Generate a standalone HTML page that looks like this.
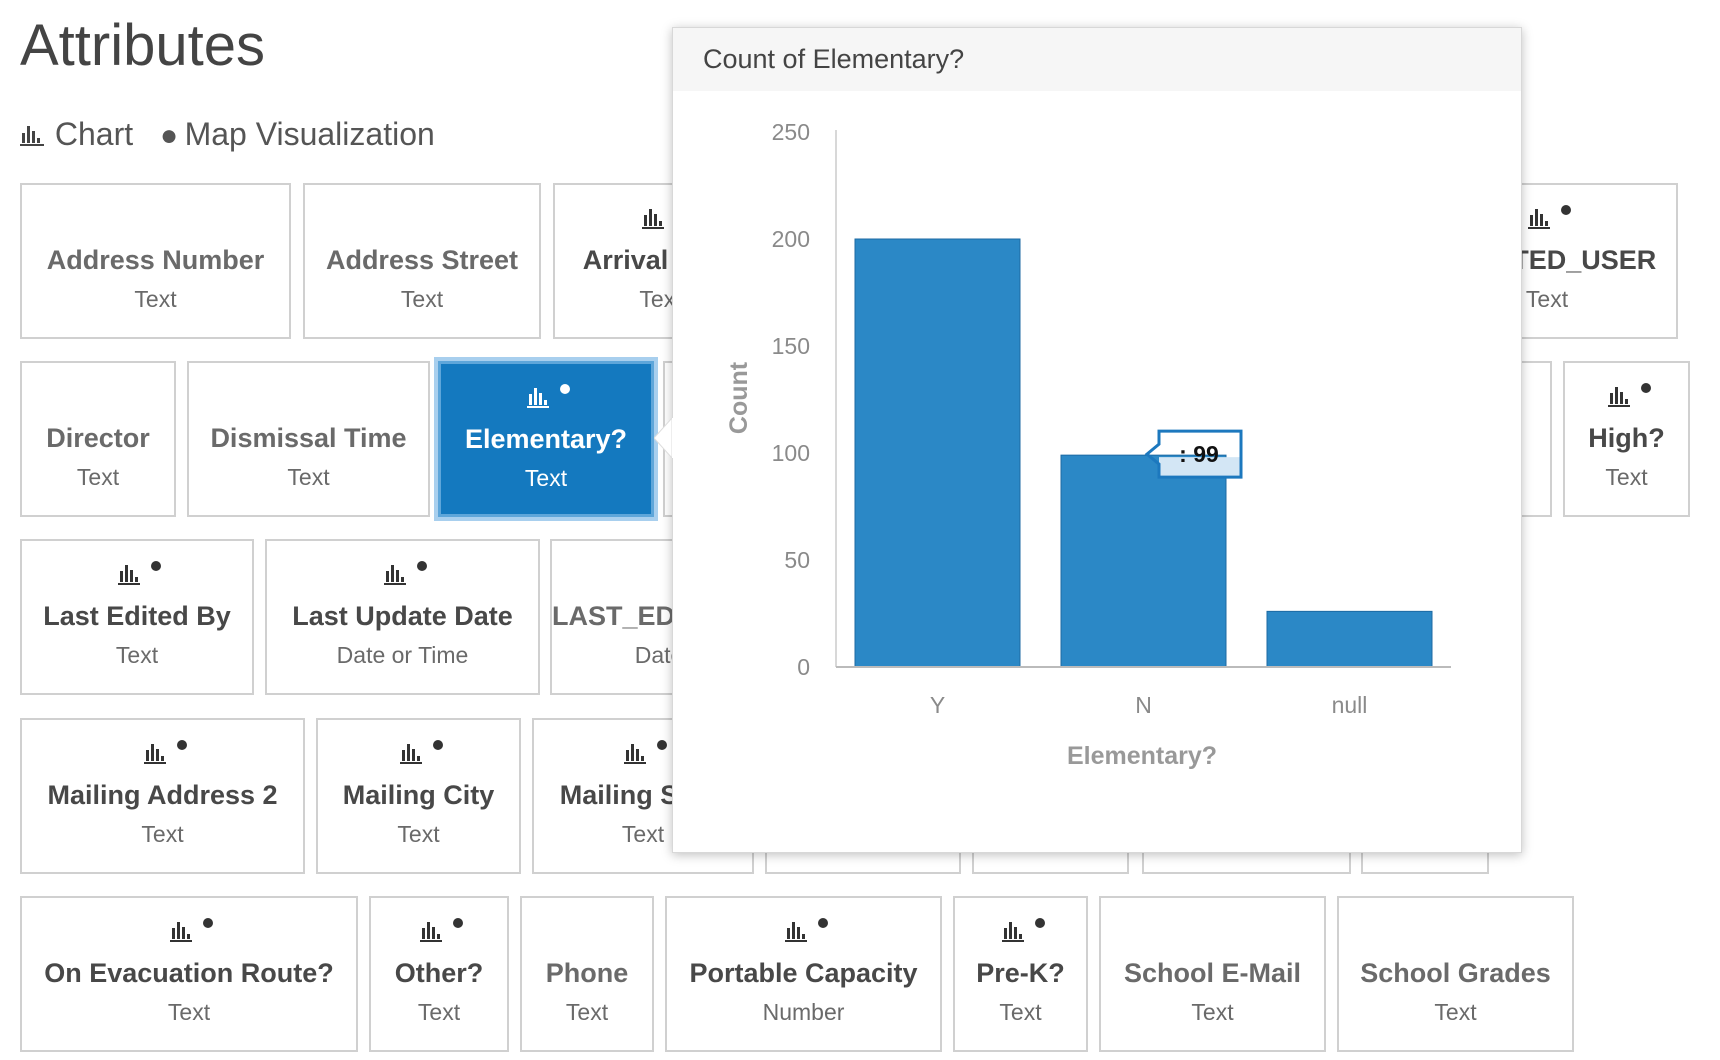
<!DOCTYPE html>
<html><head><meta charset="utf-8">
<style>
html,body{margin:0;padding:0;background:#fff;}
body{width:1720px;height:1060px;position:relative;overflow:hidden;font-family:"Liberation Sans",sans-serif;}
.card{position:absolute;box-sizing:border-box;border:2px solid #d0d0d0;background:#fff;}
.card .nm{position:absolute;left:0;right:0;text-align:center;font-weight:bold;font-size:27px;color:#6a6a6a;white-space:nowrap;}
.card.ic .nm{color:#484848;}
.card .tp{position:absolute;left:0;right:0;text-align:center;font-size:23px;color:#6a6a6a;white-space:nowrap;}
.card .icn{position:absolute;left:50%;margin-left:-20px;width:44px;height:26px;}
.card.sel{background:#1479bf;border:3px solid #5ea6da;box-shadow:0 0 0 4px #a8cfee;}
.card.sel .nm,.card.sel .tp{color:#fff;}
</style></head><body>
<div style="position:absolute;left:20px;top:12px;font-size:58px;color:#444;">Attributes</div>
<div style="position:absolute;left:20px;top:116px;font-size:32px;color:#555;">
<svg width="26" height="24" style="vertical-align:-2px"><rect x="2" y="10" width="3" height="10" fill="#444"/><rect x="7" y="3" width="3" height="17" fill="#444"/><rect x="12" y="8" width="3" height="12" fill="#444"/><rect x="17" y="15" width="3" height="5" fill="#444"/><rect x="0" y="21" width="24" height="2" fill="#444"/></svg> Chart
<span style="margin-left:18px;font-size:30px;">●</span>&thinsp;Map Visualization</div>
<div id="cards"></div>

<div style="position:absolute;left:672px;top:27px;width:848px;height:824px;background:#fff;border:1px solid #d8d8d8;box-shadow:0 2px 10px rgba(0,0,0,0.25);">
 <div style="height:63px;background:#f6f6f6;font-size:27px;color:#444;line-height:63px;padding-left:30px;">Count of Elementary?</div>
</div>
<svg width="20" height="40" style="position:absolute;left:654px;top:418px;"><polygon points="18,0 0,20 18,40" fill="#fff" stroke="#ddd"/><rect x="18" y="0" width="3" height="40" fill="#fff"/></svg>
<svg id="chart" width="1720" height="1060" style="position:absolute;left:0;top:0;pointer-events:none;"></svg>

<script>
const categories=["Y","N","null"];
const counts=[200,99,26];
const yTicks=[0,50,100,150,200,250];
const NS="http://www.w3.org/2000/svg";
const svg=document.getElementById('chart');
const y0=667,pxPer=2.14,xL=836,xR=1451;
function yScale(v){return y0-v*pxPer;}
const band=206,barW=165;
function xBand(i){return 855+i*band;}
function mk(t,a,txt){const e=document.createElementNS(NS,t);for(const k in a)e.setAttribute(k,a[k]);if(txt!==undefined)e.textContent=txt;svg.appendChild(e);return e;}
let e;
e=mk('line',{x1:xL,y1:130,x2:xL,y2:y0,stroke:'#ccc','stroke-width':1.5});


yTicks.forEach(t=>{
 e=mk('text',{x:810,y:yScale(t)+8,'text-anchor':'end','font-size':23,fill:'#8a8a8a','font-family':'Liberation Sans, sans-serif'},String(t));
 
 
});
categories.forEach((c,i)=>{
 const x=xBand(i);
 e=mk('rect',{x:x,y:yScale(counts[i]),width:barW,height:counts[i]*pxPer,fill:'#2b88c6',stroke:'#1c6aa3','stroke-width':1});
 
 
 e=mk('text',{x:x+barW/2,y:713,'text-anchor':'middle','font-size':23,fill:'#8a8a8a','font-family':'Liberation Sans, sans-serif'},c);
 
 
});
e=mk('line',{x1:xL,y1:y0,x2:xR,y2:y0,stroke:'#bbb','stroke-width':2});


e=mk('text',{x:1142,y:764,'text-anchor':'middle','font-size':25,'font-weight':'bold',fill:'#999','font-family':'Liberation Sans, sans-serif'},'Elementary?');


e=mk('text',{x:0,y:0,transform:'translate(747,398) rotate(-90)','text-anchor':'middle','font-size':25,'font-weight':'bold',fill:'#999','font-family':'Liberation Sans, sans-serif'},'Count');


// tooltip on N bar
const tx=xBand(1)+86, ty=yScale(counts[1])-24;
e=mk('rect',{x:tx+12,y:ty+26,width:82,height:20,fill:'#d3e6f5'});


e=mk('path',{d:`M${tx+12},${ty} h82 v46 h-82 v-13 l-12,-10 l12,-10 z`,fill:'none',stroke:'#1c78be','stroke-width':3});


e=mk('text',{x:tx+52,y:ty+31,'text-anchor':'middle','font-size':23,'font-weight':'bold',fill:'#111','font-family':'Liberation Sans, sans-serif'},': '+counts[1]);



const S=1.0976;
const cards=[
 [18,167,265,"Address Number","Text",0],[276,167,493,"Address Street","Text",0],[504,167,700,"Arrival Time","Text",1],[1290,167,1529,"CREATED_USER","Text",1],
 [18,329,160,"Director","Text",0],[170,329,391,"Dismissal Time","Text",0],[399,329,596,"Elementary?","Text",1],[604,329,800,"End Time","Text",0],[1200,329,1414,"Grade?","Text",1],[1424,329,1540,"High?","Text",1],
 [18,491,231,"Last Edited By","Text",1],[241,491,492,"Last Update Date","Date or Time",1],[501,491,700,"LAST_EDITED_DATE","Date",0],
 [18,654,278,"Mailing Address 2","Text",1],[288,654,475,"Mailing City","Text",1],[485,654,687,"Mailing State","Text",1],[697,654,876,"Mailing Zip","Text",0],[886,654,1029,"Middle?","Text",0],[1040,654,1230,"Name","Text",0],[1240,654,1357,"OBJ","Text",0],
 [18,816,326,"On Evacuation Route?","Text",1],[336,816,464,"Other?","Text",1],[474,816,596,"Phone","Text",0],[606,816,858,"Portable Capacity","Number",1],[868,816,991,"Pre-K?","Text",1],[1001,816,1208,"School E-Mail","Text",0],[1218,816,1434,"School Grades","Text",0]
];
const host=document.getElementById('cards');
cards.forEach(c=>{
 const d=document.createElement('div');
 const sel=c[3]==="Elementary?";
 d.className='card'+(c[5]?' ic':'')+(sel?' sel':'');
 
 
 const L=Math.round(c[0]*S),T=Math.round(c[1]*S),W=Math.round((c[2]-c[0])*S),H=Math.round(142*S);
 d.style.cssText=`left:${L}px;top:${T}px;width:${W}px;height:${H}px;`;
 const col=sel?'#fff':'#333';
 let h='';
 if(c[5]) h+=`<svg class="icn" style="top:20px" viewBox="0 0 44 26"><rect x="3" y="10" width="3" height="11" fill="${col}"/><rect x="8" y="4" width="3" height="17" fill="${col}"/><rect x="13" y="9" width="3" height="12" fill="${col}"/><rect x="18" y="16" width="3" height="5" fill="${col}"/><rect x="1" y="22" width="22" height="2" fill="${col}"/><circle cx="39" cy="5" r="5" fill="${sel?'#fff':'#333'}"/></svg>`;
 h+=`<div class="nm" style="top:60px">${c[3]}</div><div class="tp" style="top:101px">${c[4]}</div>`;
 d.innerHTML=h;
 host.appendChild(d);
});
</script>
</body></html>
